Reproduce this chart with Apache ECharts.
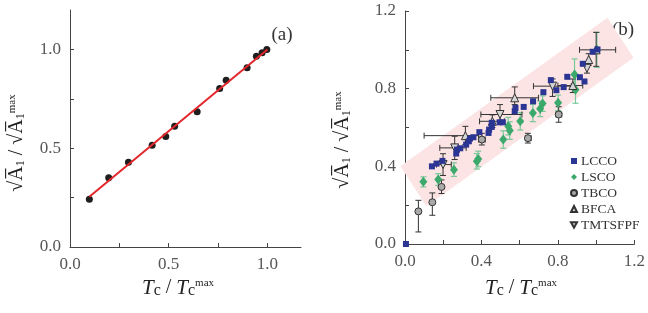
<!DOCTYPE html>
<html><head><meta charset="utf-8">
<script src="https://cdn.jsdelivr.net/npm/echarts@6/dist/echarts.min.js"></script>
<style>html,body{margin:0;padding:0;background:#fff}#c{width:648px;height:313px}</style>
</head><body><div id="c"></div>
<script>
// ---- Panel (a) ----
const aPoints = [[0.098,0.242],[0.196,0.351],[0.296,0.429],[0.416,0.515],[0.485,0.559],[0.530,0.612],[0.644,0.685],[0.758,0.803],[0.791,0.844],[0.897,0.907],[0.944,0.966],[0.973,0.983],[0.997,1.0]];
const aFit = [[0.098,0.254],[1.0,1.0]];
const aTicks = [0,0.25,0.5,0.75,1.0];
const aLabels = [0,0.5,1.0];

// ---- Panel (b) ----
const band = [[-0.024,0.400],[0.112,0.194],[1.195,0.959],[1.059,1.165]];
const lcco = [[0.005,0.0],[0.141,0.400],[0.165,0.414],[0.196,0.428],[0.268,0.466],[0.272,0.486],[0.289,0.493],[0.320,0.512],[0.334,0.529],[0.340,0.543],[0.358,0.550],[0.389,0.576],[0.437,0.572],[0.440,0.589],[0.454,0.603],[0.454,0.624],[0.495,0.627],[0.512,0.627],[0.574,0.684],[0.578,0.701],[0.621,0.706],[0.670,0.735],[0.724,0.782],[0.763,0.844],[0.792,0.792],[0.830,0.808],[0.849,0.861],[0.915,0.859],[0.939,0.837],[0.930,0.928],[0.982,0.990],[1.007,1.002]];
// [x, y, yErr]
const lsco = [[0.096,0.320,0.026],[0.174,0.332,0.03],[0.256,0.383,0.035],[0.376,0.426,0.04],[0.383,0.438,0.04],[0.514,0.538,0.045],[0.540,0.607,0.045],[0.548,0.584,0.045],[0.603,0.632,0.045],[0.669,0.675,0.045],[0.707,0.696,0.04],[0.720,0.723,0.04],[0.801,0.727,0.04],[0.887,0.873,0.08],[0.892,0.795,0.07],[1.004,1.0,0.09]];
// [x, y, xLow, xHigh, yLow, yHigh]
const tbco = [[0.070,0.168,0.070,0.070,0.062,0.225],[0.143,0.215,0.143,0.143,0.148,0.263],[0.191,0.294,0.191,0.191,0.26,0.33],[0.402,0.538,0.385,0.42,0.51,0.57],[0.643,0.545,0.63,0.66,0.52,0.57],[0.804,0.667,0.79,0.82,0.627,0.707]];
const bfca = [[0.316,0.558,0.10,0.385,0.512,0.606],[0.457,0.632,0.39,0.52,0.60,0.665],[0.574,0.753,0.449,0.698,0.718,0.809],[0.878,0.816,0.80,0.93,0.78,0.85],[0.961,0.950,0.961,0.961,0.92,0.98],[1.0,1.0,0.913,1.102,0.915,1.09]];
const tmtsf = [[0.199,0.409,0.165,0.242,0.353,0.465],[0.260,0.495,0.182,0.320,0.435,0.555],[0.497,0.667,0.397,0.612,0.615,0.718],[0.772,0.813,0.672,0.87,0.76,0.85],[0.952,0.905,0.952,0.952,0.88,0.93]];
const bTicks = [0,0.2,0.4,0.6,0.8,1.0,1.2];
const bLabels = [0,0.4,0.8,1.2];
const legendNames = ['LCCO','LSCO','TBCO','BFCA','TMTSFPF'];

const SERIF = 'Liberation Serif';
const lsErr = lsco.map(d => [d[0], d[1], d[0], d[0], d[1]-d[2], d[1]+d[2]]);

function errRender(color, width) {
  return function (params, api) {
    const x = api.value(0), y = api.value(1);
    const xl = api.value(2), xh = api.value(3), yl = api.value(4), yh = api.value(5);
    const st = { stroke: color, lineWidth: width };
    const ch = [];
    const cap = 3;
    if (yh > yl) {
      const p1 = api.coord([x, yl]), p2 = api.coord([x, yh]);
      ch.push({ type: 'line', shape: { x1: p1[0], y1: p1[1], x2: p2[0], y2: p2[1] }, style: st });
      ch.push({ type: 'line', shape: { x1: p1[0]-cap, y1: p1[1], x2: p1[0]+cap, y2: p1[1] }, style: st });
      ch.push({ type: 'line', shape: { x1: p2[0]-cap, y1: p2[1], x2: p2[0]+cap, y2: p2[1] }, style: st });
    }
    if (xh > xl) {
      const p1 = api.coord([xl, y]), p2 = api.coord([xh, y]);
      ch.push({ type: 'line', shape: { x1: p1[0], y1: p1[1], x2: p2[0], y2: p2[1] }, style: st });
      ch.push({ type: 'line', shape: { x1: p1[0], y1: p1[1]-cap, x2: p1[0], y2: p1[1]+cap }, style: st });
      ch.push({ type: 'line', shape: { x1: p2[0], y1: p2[1]-cap, x2: p2[0], y2: p2[1]+cap }, style: st });
    }
    return { type: 'group', children: ch };
  };
}

function axis(gi, max, ticks, labels) {
  return {
    type: 'value', gridIndex: gi, min: 0, max: max,
    axisLine: { lineStyle: { color: '#444', width: 1 } },
    axisTick: { inside: true, length: 4, customValues: ticks, lineStyle: { color: '#444' } },
    axisLabel: { customValues: labels, formatter: v => v.toFixed(1), fontFamily: SERIF, fontSize: 17, color: '#555', margin: 9 },
    splitLine: { show: false }
  };
}

const chart = echarts.init(document.getElementById('c'), null, { renderer: 'canvas' });
const ytitle = '{r|√}{a|A\u0305}{s|1} {n|/} {r|√}{a|A\u0305}{s|1}{p|max}';
const yrich = {
  r: { fontFamily: SERIF, fontSize: 20, color: '#222' },
  a: { fontFamily: SERIF, fontSize: 20, color: '#222' },
  s: { fontFamily: SERIF, fontSize: 12, color: '#222', verticalAlign: 'bottom' },
  n: { fontFamily: SERIF, fontSize: 20, color: '#222' },
  p: { fontFamily: SERIF, fontSize: 11, color: '#222', verticalAlign: 'top' }
};
const xtitle = '{t|T}{c|c} {n|/} {t|T}{c|c}{p|max}';
const xrich = {
  t: { fontFamily: SERIF, fontStyle: 'italic', fontSize: 21, color: '#222' },
  c: { fontFamily: SERIF, fontSize: 16, color: '#222', verticalAlign: 'bottom' },
  n: { fontFamily: SERIF, fontSize: 20, color: '#222' },
  p: { fontFamily: SERIF, fontSize: 11, color: '#222', verticalAlign: 'top' }
};
function title(x, y, text, rich, rot) {
  return { type: 'text', x: x, y: y, rotation: rot || 0, silent: true,
    style: { text: text, rich: rich, align: 'center', verticalAlign: 'middle', fill: '#222', font: '20px ' + SERIF } };
}

const grayErr = '#333';
chart.setOption({
  animation: false,
  grid: [
    { left: 70, top: 10, width: 231, height: 237 },
    { left: 405, top: 11, width: 233, height: 233 }
  ],
  xAxis: [axis(0, 1.17, aTicks, aLabels), axis(1, 1.2, bTicks, bLabels)],
  yAxis: [axis(0, 1.2, aTicks, aLabels), axis(1, 1.2, bTicks, bLabels)],
  legend: {
    data: [
      { name: 'LCCO', icon: 'rect' },
      { name: 'LSCO', icon: 'diamond' },
      { name: 'TBCO', icon: 'circle' },
      { name: 'BFCA', icon: 'triangle' },
      { name: 'TMTSFPF', icon: 'path://M0,0L10,0L5,9Z' }
    ],
    orient: 'vertical', left: 570, top: 154, padding: 0, itemGap: 2,
    itemWidth: 6, itemHeight: 6,
    textStyle: { fontFamily: SERIF, fontSize: 13.5, color: '#333', lineHeight: 14, padding: [0,0,0,-1] }
  },
  graphic: [
    title(17, 143, ytitle, yrich, Math.PI / 2),
    title(343, 140, ytitle, yrich, Math.PI / 2),
    title(178, 288, xtitle, xrich),
    title(521, 288, xtitle, xrich),
    { type: 'text', x: 282, y: 35, style: { text: '(a)', font: '19px ' + SERIF, fill: '#333', align: 'center', verticalAlign: 'middle' } },
    { type: 'text', x: 623, y: 30, style: { text: '(b)', font: '19px ' + SERIF, fill: '#333', align: 'center', verticalAlign: 'middle' } }
  ],
  series: [
    { type: 'scatter', xAxisIndex: 0, yAxisIndex: 0, data: aPoints, symbol: 'circle', symbolSize: 7, itemStyle: { color: '#1e1e1e', opacity: 1 }, z: 3 },
    { type: 'line', xAxisIndex: 0, yAxisIndex: 0, data: aFit, showSymbol: false, lineStyle: { color: '#e3262b', width: 2 }, z: 4 },
    { type: 'custom', xAxisIndex: 1, yAxisIndex: 1, data: [band.flat()], z: 1, silent: true,
      renderItem: function (params, api) {
        const pts = [];
        for (let i = 0; i < 4; i++) pts.push(api.coord([api.value(2*i), api.value(2*i+1)]));
        return { type: 'polygon', shape: { points: pts }, style: { fill: '#fce3e4' } };
      }, encode: { x: [0,2,4,6], y: [1,3,5,7] } },
    { type: 'custom', xAxisIndex: 1, yAxisIndex: 1, data: lsErr, renderItem: errRender('#78c898', 1.2), z: 2, encode: { x: 0, y: 1 } },
    { type: 'custom', xAxisIndex: 1, yAxisIndex: 1, data: tbco, renderItem: errRender(grayErr, 1), z: 2, encode: { x: 0, y: 1 } },
    { type: 'custom', xAxisIndex: 1, yAxisIndex: 1, data: bfca, renderItem: errRender(grayErr, 1), z: 2, encode: { x: 0, y: 1 } },
    { type: 'custom', xAxisIndex: 1, yAxisIndex: 1, data: tmtsf, renderItem: errRender(grayErr, 1), z: 2, encode: { x: 0, y: 1 } },
    { name: 'LSCO', type: 'scatter', xAxisIndex: 1, yAxisIndex: 1, data: lsco.map(d => [d[0], d[1]]), symbol: 'diamond', symbolSize: [8, 10], itemStyle: { color: '#3aa96b', opacity: 1 }, z: 3 },
    { name: 'TBCO', type: 'scatter', xAxisIndex: 1, yAxisIndex: 1, data: tbco.map(d => [d[0], d[1]]), symbol: 'circle', symbolSize: 7, itemStyle: { color: '#a9a9a9', borderColor: '#333', borderWidth: 1, opacity: 1 }, z: 3 },
    { name: 'BFCA', type: 'scatter', xAxisIndex: 1, yAxisIndex: 1, data: bfca.map(d => [d[0], d[1]]), symbol: 'triangle', symbolSize: 8, itemStyle: { color: '#d4d4d4', borderColor: '#333', borderWidth: 1, opacity: 1 }, z: 3 },
    { name: 'TMTSFPF', type: 'scatter', xAxisIndex: 1, yAxisIndex: 1, data: tmtsf.map(d => [d[0], d[1]]), symbol: 'triangle', symbolRotate: 180, symbolSize: 8, itemStyle: { color: '#d4d4d4', borderColor: '#333', borderWidth: 1, opacity: 1 }, z: 3 },
    { name: 'LCCO', type: 'scatter', xAxisIndex: 1, yAxisIndex: 1, data: lcco, symbol: 'rect', symbolSize: 6, itemStyle: { color: '#2b3593', opacity: 1 }, z: 4 }
  ]
});
</script></body></html>
